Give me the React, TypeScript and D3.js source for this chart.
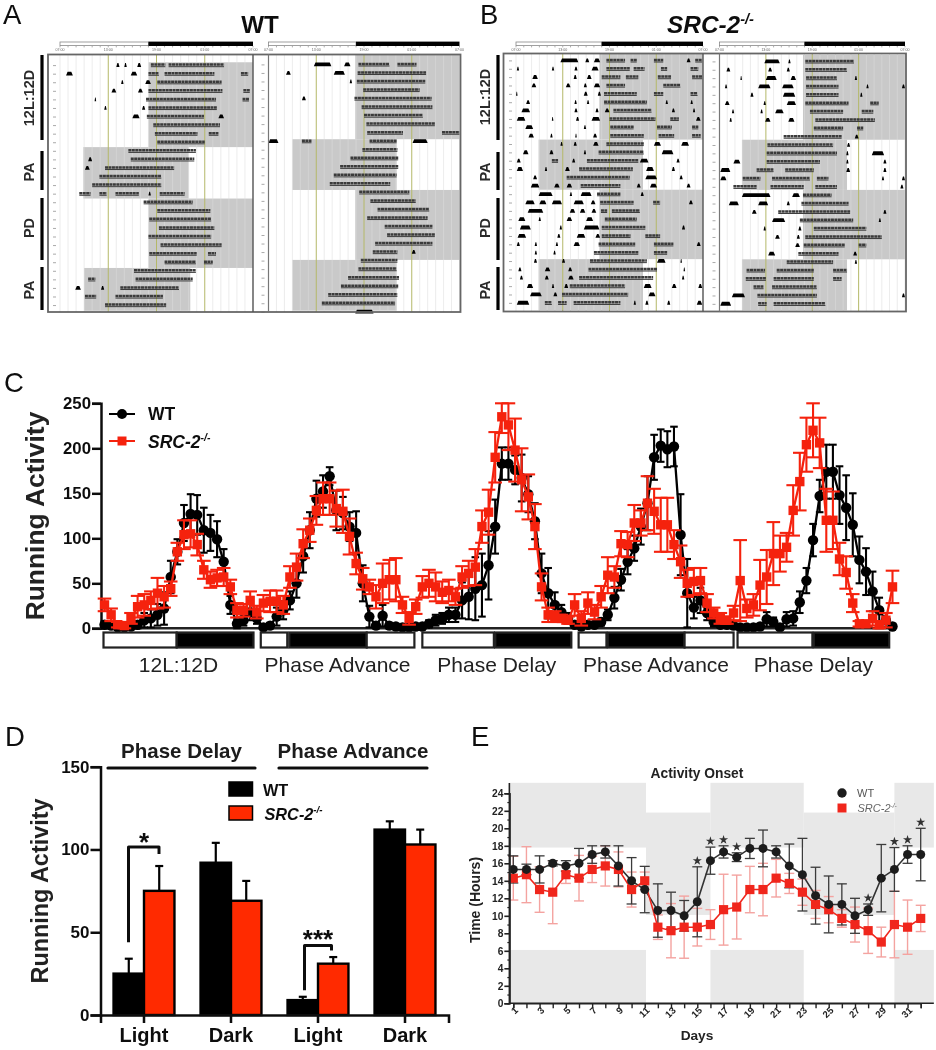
import React, { useEffect, useRef } from "react";
import { select, scaleLinear, scaleBand, axisLeft, axisBottom, line, symbol, symbolStar, range } from "d3";

type Seg = [number, number];
type Shade = [number, number, number, number];

const SANS = "'Liberation Sans', Arial, sans-serif";
const BLACK = "#050505";
const RED = "#f5220f";

// ---- panel A / B : activity bouts per day row, [start, end] in hours after 07:00
const wtLeft: Seg[][] = [
  [[7, 7.4], [8, 8.3], [9.6, 10.1], [11.3, 13.1], [13.5, 20.4]],
  [[0.75, 1.6], [8.8, 9.6], [11, 12.3], [13, 19.2], [22.5, 23.4]],
  [[7.6, 7.9], [10.6, 11.3], [12.1, 20.1]],
  [[6.4, 7], [9.7, 10.3], [11, 20.2], [22.8, 23.6]],
  [[4.3, 4.5], [10.7, 19.4], [22.7, 23.5]],
  [[5.5, 5.8], [10.2, 10.6], [11, 19.5]],
  [[9, 9.9], [10.8, 17.9], [19.7, 20.4]],
  [[11.6, 19.9]],
  [[11.8, 17.1], [18.5, 19.7]],
  [[12.1, 18]],
  [[8.5, 16.9]],
  [[3.5, 4], [8.8, 16.7]],
  [[3.1, 3.7], [5.6, 14.2]],
  [[4.9, 12.6]],
  [[4, 12.6]],
  [[2.4, 3.8], [4.9, 5.8], [6.9, 9.8], [11, 11.3], [12.4, 15.5]],
  [[10.4, 16.5]],
  [[12.1, 18.7]],
  [[11.1, 18.8]],
  [[12.3, 19.2]],
  [[11, 18.8]],
  [[12.5, 20.1]],
  [[11.1, 17], [18.4, 19.4]],
  [[13, 16.9], [17.9, 19]],
  [[9.2, 16.9]],
  [[3.5, 4.4], [9.4, 16.5]],
  [[1.9, 2.6], [5.1, 5.5], [7.5, 14.8]],
  [[3.1, 4.5], [6.9, 12.8]],
  [[5.6, 13.2]],
];
const wtRight: Seg[][] = [
  [[5.7, 7.9], [9.5, 10.3], [11.3, 15.2], [16.2, 18.6]],
  [[2.2, 2.8], [8.2, 9.6], [11.2, 19.8]],
  [[10.2, 10.5], [11.1, 19.7]],
  [[11.9, 19]],
  [[4.2, 4.7], [10.8, 20.5]],
  [[11.7, 20.6]],
  [[12, 19.4]],
  [[12.3, 20.9]],
  [[12.4, 16.9], [21.8, 24]],
  [[0, 1.25], [4.2, 5.4], [12.7, 16.1], [18.1, 20]],
  [[11.8, 16.2]],
  [[10.3, 16.3]],
  [[9, 16.3]],
  [[8.2, 16.1]],
  [[7.7, 15.3]],
  [[11.4, 17.7]],
  [[12.8, 18.5]],
  [[13.7, 20.2]],
  [[12.4, 20]],
  [[14.6, 20.6]],
  [[14.9, 20.9]],
  [[13.4, 20.6]],
  [[13.1, 16.2], [18, 18.5]],
  [[11.6, 16.2]],
  [[11.3, 16.1]],
  [[10, 16.4]],
  [[9.1, 16.3]],
  [[7.5, 16.2]],
  [[6.7, 15.9]],
  [[10.9, 13.2]],
];
const srcLeft: Seg[][] = [
  [[5.7, 8], [8.9, 9.4], [10, 10.8], [11.6, 14], [14.7, 15.5], [17.7, 18.9], [21.9, 22.4], [23, 23.9]],
  [[0.1, 0.4], [4.6, 4.9], [7.5, 7.9], [9.7, 10.6], [11.6, 14.6], [15.1, 16.5], [18.6, 19.4], [22.4, 23.4]],
  [[2.1, 2.8], [7.4, 7.8], [9.1, 9.7], [11, 13.4], [14.1, 15.7], [18.2, 19.9], [22.6, 23.9]],
  [[2, 2.6], [6.4, 7], [8.7, 9.1], [10, 10.8], [11.6, 14], [18.9, 21.1]],
  [[0, 0.2], [8.7, 9.2], [10.5, 10.9], [11.3, 15.5], [17.7, 18.9], [22.4, 23.3]],
  [[1.3, 1.8], [7.5, 7.8], [9.1, 9.4], [11.3, 16.8], [19.2, 19.5], [22.4, 22.7]],
  [[0.7, 1.8], [7.5, 7.9], [10.2, 10.6], [11.4, 12], [12.5, 17.4], [20, 20.4], [22.7, 23]],
  [[0.1, 1.2], [4.6, 4.8], [7.7, 8.1], [9.7, 10.8], [12, 17.9], [19.8, 20.9], [23.1, 23.7]],
  [[1.2, 2.2], [8.7, 9], [12.1, 15.1], [18.1, 20], [22.6, 23.4]],
  [[1.6, 2.3], [4.4, 4.7], [7.6, 7.8], [9.9, 10.4], [12.1, 16.4], [18.3, 20.3], [22.6, 23.7]],
  [[5.7, 6], [7.4, 7.8], [9.9, 10.6], [11.6, 16.4], [17.7, 18.6], [21.2, 22.2]],
  [[0.9, 1.6], [4.3, 4.8], [8.7, 9], [10.6, 16.4], [18.7, 20.2]],
  [[0.1, 0.6], [4.6, 5.4], [7.2, 7.6], [9.1, 15.7], [15.9, 17], [20.6, 21]],
  [[0.1, 0.9], [3.7, 4], [6.3, 6.9], [8.1, 15], [16.7, 17.7], [20, 20.4]],
  [[2.2, 2.7], [6.5, 14.6], [16.6, 18.1], [21, 21.4]],
  [[1.9, 3], [4.9, 5.6], [6.5, 7.2], [8.3, 13.4], [15.5, 16], [17.2, 18.1], [21.9, 22.4]],
  [[2.9, 4.7], [6.9, 7.2], [8.3, 9.7], [10.4, 13.4], [16, 16.4]],
  [[1.2, 2.4], [3, 3.9], [4.6, 5.9], [7.4, 8.7], [9.6, 10.2], [10.8, 15.1], [17.6, 18.5], [22.2, 22.7]],
  [[1.5, 3.5], [6.9, 7.6], [8.2, 8.9], [9.7, 10.3], [10.9, 11.7], [12.3, 15.9]],
  [[0.3, 1.2], [2.9, 3.2], [6.5, 7.2], [9, 9.9], [11.4, 15.5]],
  [[0.5, 1.9], [5.6, 5.9], [8.7, 10.7], [11, 16.6], [21.3, 21.7]],
  [[0.2, 1.3], [5.3, 5.7], [7.8, 8.9], [10.2, 10.8], [11, 14.7], [16.6, 18.5]],
  [[0.1, 0.5], [2.4, 2.7], [5.1, 5.4], [7.4, 8.2], [10.6, 15.3], [17.7, 20.2], [23.2, 23.7]],
  [[2.4, 2.7], [4.8, 5.1], [10, 15.7], [17.7, 19.4]],
  [[2.3, 2.7], [5.9, 6.3], [9.5, 16.8], [18.1, 19.2], [21.1, 21.3]],
  [[0.3, 0.7], [3.7, 4.4], [6.7, 7.2], [9.3, 18.1], [21.5, 21.7]],
  [[0.5, 0.9], [3.7, 4.2], [6.7, 7.4], [8.1, 17.6], [21.3, 21.6]],
  [[1.4, 2.2], [4.6, 4.9], [6.2, 6.7], [6.9, 14], [16.4, 17.4], [20, 20.6], [23.4, 23.9]],
  [[1.8, 3.3], [4.8, 5.3], [5.9, 14.4], [17, 17.9]],
  [[0.1, 1.7], [3.7, 4.6], [5.4, 6.5], [7.4, 13.4], [15.1, 15.4], [16.6, 17], [19.4, 19.8], [23.2, 23.9]],
];
const srcRight: Seg[][] = [
  [[5.8, 7.8], [8.9, 9.2], [11.1, 17.4]],
  [[0.9, 1.4], [6.3, 6.8], [8.7, 9.1], [11.1, 16.5]],
  [[2.7, 2.9], [6, 7.4], [9.2, 9.9], [11.2, 15.2], [17.5, 17.8]],
  [[0.7, 1], [5, 6.6], [8.1, 9.6], [11.2, 15.4], [19, 19.3], [23.6, 24]],
  [[4, 4.4], [8.2, 9.8], [11.2, 15.4], [18.2, 18.5]],
  [[0.7, 1.3], [5.7, 6], [8.7, 9.9], [11.1, 16.7], [19.5, 20.6]],
  [[1.6, 1.9], [5.3, 5.6], [7.2, 8.3], [11.7, 16], [18.4, 19.9]],
  [[1.3, 1.6], [5.9, 6.6], [8.9, 9.7], [12.4, 20.1]],
  [[12.2, 16], [17.8, 18.6]],
  [[8.3, 15.8], [17.5, 18]],
  [[6.2, 14.7], [16.5, 16.9]],
  [[6.1, 15.2], [16.4, 16.7], [19.7, 21.3]],
  [[1.8, 2.7], [6.1, 13], [16.4, 16.7], [21.2, 21.6]],
  [[0.1, 1.4], [4.8, 7], [8.5, 12.2], [16.4, 16.9], [21.2, 21.6]],
  [[0.1, 0.9], [3, 5.3], [6.8, 11.7], [12.6, 14.1], [21, 21.3], [23.6, 24]],
  [[1.8, 4.8], [6.6, 10.9], [12.4, 15.2], [23.4, 23.8]],
  [[2.9, 6.6], [9.4, 10.4], [10.8, 14.5]],
  [[1.2, 2.5], [5, 6.3], [8.7, 9.1], [10.6, 16.7]],
  [[4.2, 4.8], [7.6, 16.9], [21.2, 21.6]],
  [[6.8, 8.5], [10.4, 17.3], [20.6, 20.9]],
  [[5.7, 6], [10.2, 10.6], [12.2, 19]],
  [[7.2, 7.8], [10, 10.4], [11.1, 21]],
  [[9.8, 10.4], [10.9, 16.2], [18, 19]],
  [[6.3, 7.2], [10.2, 15.4], [17.3, 17.8]],
  [[8.7, 14.7], [17.5, 17.8]],
  [[3.5, 5.9], [7.4, 12.2], [14.7, 16.5]],
  [[3.4, 6], [7, 12.2], [14.7, 15.8]],
  [[4.4, 5.7], [6.8, 12.6]],
  [[1.6, 3.3], [4.9, 12.6], [23.6, 24]],
  [[0.1, 1.5], [5, 6.1], [7, 13.7]],
];
// [first row, last row, start hour, end hour] of the dark phase
const wtLeftShades: Shade[] = [[-0.4, 9.5, 11, 24], [9.5, 15.5, 2.9, 16], [15.5, 23.6, 11, 24], [23.6, 28.6, 3, 16.2]];
const wtRightShades: Shade[] = [[-1.17, 8.7, 10.9, 24], [8.7, 14.65, 3, 16.1], [14.65, 22.85, 10.9, 24], [22.85, 28.8, 3, 16.1]];
const srcLeftShades: Shade[] = [[-0.9, 9.4, 10.7, 24], [9.4, 15.4, 2.9, 16.3], [15.4, 23.7, 10.7, 24], [23.7, 29.8, 2.9, 16.3]];
const srcRightShades: Shade[] = [[-0.85, 9.3, 10.8, 24], [9.3, 15.3, 2.9, 16.5], [15.3, 23.6, 10.8, 24], [23.6, 29.7, 2.9, 16.5]];
const clockLabels = ["07:00", "13:00", "19:00", "01:00", "07:00"];
const scheduleLabels = ["12L:12D", "PA", "PD", "PA"];

// ---- panel C : hourly running activity
const cWt = [
  4, 3, 1, 1, 2, 4, 9, 11, 15, 22, 57, 85, 117, 127, 126, 109, 106, 99, 74, 26, 5, 9, 18, 11, 1, 3, 13, 20, 31, 50,
  80, 109, 144, 152, 169, 131, 128, 113, 106, 50, 13, 3, 14, 3, 2, 1, 1, 2, 2, 5, 9, 11, 15, 15, 31, 35,
  44, 48, 70, 113, 183, 183, 176, 167, 149, 119, 61, 39, 26, 18, 11, 4, 2, 4, 4, 7, 15, 34, 54, 74, 89, 113, 139, 190,
  203, 199, 202, 104, 39, 23, 31, 17, 7, 4, 4, 3, 1, 1, 1, 2, 10, 7, 1, 10, 11, 29, 53, 98, 147, 174, 174, 148, 134,
  115, 76, 63, 41, 20, 9, 2,
];
const cWtErr = [
  4, 3, 1, 1, 2, 4, 8, 10, 12, 18, 18, 14, 20, 22, 22, 25, 20, 20, 14, 10, 5, 6, 9, 6, 2, 3, 10, 10, 10, 16,
  18, 20, 20, 18, 10, 22, 18, 16, 24, 20, 12, 4, 12, 3, 2, 1, 1, 2, 2, 4, 6, 6, 8, 8, 20, 25,
  35, 35, 38, 30, 18, 18, 16, 26, 20, 20, 22, 28, 14, 8, 6, 3, 2, 3, 3, 4, 6, 12, 12, 14, 14, 20, 30, 25,
  18, 20, 22, 45, 38, 12, 14, 8, 5, 3, 3, 2, 1, 1, 1, 2, 8, 5, 1, 8, 8, 12, 14, 18, 18, 30, 30, 32, 36,
  35, 26, 26, 22, 14, 8, 3,
];
const cSrc = [
  26, 15, 4, 3, 11, 24, 26, 31, 39, 35, 44, 85, 104, 105, 93, 65, 54, 56, 57, 46, 20, 20, 31, 18, 28, 30, 30, 26, 57, 68,
  94, 109, 131, 144, 144, 133, 130, 102, 72, 55, 46, 35, 50, 54, 54, 26, 11, 24, 46, 50, 46, 40, 42, 35, 57, 61,
  68, 113, 129, 190, 235, 226, 198, 165, 146, 113, 46, 15, 13, 11, 9, 26, 11, 28, 18, 35, 59, 57, 94, 93, 117, 117, 139, 130,
  115, 115, 93, 74, 50, 52, 53, 28, 17, 11, 9, 17, 53, 22, 26, 48, 57, 83, 83, 90, 131, 163, 204, 220, 206,
  120, 120, 77, 62, 28, 5, 5, 11, 4, 9, 46,
];
const cSrcErr = [
  7, 7, 3, 3, 6, 12, 12, 10, 17, 12, 8, 10, 16, 15, 12, 10, 9, 9, 10, 8, 8, 7, 10, 7, 9, 12, 12, 10, 12, 15,
  16, 13, 16, 18, 18, 20, 24, 20, 12, 12, 8, 13, 22, 22, 24, 9, 7, 8, 12, 15, 16, 12, 12, 9, 12, 14,
  20, 18, 25, 28, 18, 28, 35, 35, 25, 25, 15, 8, 6, 4, 4, 12, 8, 12, 8, 12, 20, 12, 14, 14, 20, 14, 30, 25,
  30, 30, 16, 18, 15, 15, 14, 10, 6, 6, 4, 8, 45, 10, 12, 28, 30, 35, 20, 16, 28, 32, 30, 30, 28,
  35, 32, 18, 18, 10, 3, 3, 8, 4, 8, 18,
];
// light and dark stretches of the schedule bar, in hour positions
const cPhases = [
  { label: "12L:12D", parts: [["L", -0.15, 10.9], ["D", 10.9, 22.5]] },
  { label: "Phase Advance", parts: [["L", 23.6, 27.6], ["D", 27.9, 39.6], ["L", 39.6, 46.8]] },
  { label: "Phase Delay", parts: [["L", 48, 58.8], ["D", 59, 70.5]] },
  { label: "Phase Advance", parts: [["L", 71.6, 75.8], ["D", 76, 87.6], ["L", 87.6, 95]] },
  { label: "Phase Delay", parts: [["L", 95.6, 106.9], ["D", 107.1, 118.5]] },
];

// ---- panel D
const dGroups = ["Light", "Dark", "Light", "Dark"];
const dWt = [25, 92, 9, 112];
const dWtTop = [34, 104, 11, 117];
const dSrc = [75, 69, 31, 103];
const dSrcTop = [90, 81, 35, 112];

// ---- panel E
const eDays = range(1, 33);
const eWt = [15.3, 15.3, 15.3, 16, 15.7, 16, 17, 17.3, 15.7, 14, 13, 10.6, 10.6, 10, 11.6, 16.3, 17.3, 16.7, 17.7, 17.7, 17.3, 15.7, 14.7, 12.3, 11.3, 11.3, 10, 10.7, 14.3, 15.3, 17, 17];
const eWtErr = [1.55, 0.6, 1.55, 0.3, 0.6, 1.7, 1, 0.7, 2.3, 2.65, 2.65, 3.05, 2.1, 1.75, 4, 1.55, 0.7, 0.5, 1.15, 2.1, 0.7, 2.5, 4.15, 3.25, 3.25, 2.35, 2, 0.65, 3.85, 2.5, 1, 3];
const eSrc = [14.3, 14.7, 13, 12.7, 14.7, 14.3, 15.3, 15.7, 15.3, 13, 14, 8.7, 8.3, 8.7, 8.7, 9, 10.7, 11, 13, 13, 14.3, 13.7, 12.7, 11.3, 10.7, 9.7, 9, 8.3, 7, 9, 8.7, 9.7];
const eSrcErr = [2.5, 3.2, 2.6, 3.6, 1, 2.6, 1.5, 2.3, 2, 2, 1, 1.4, 3.1, 3.55, 2.15, 1.7, 4.05, 3.65, 2.65, 3, 2.15, 1.15, 1.5, 1.6, 1.5, 1, 2, 2.6, 1.7, 3.8, 3.1, 1.5];
const eStarDays = [15, 16, 17, 18, 28, 30, 31, 32];
// [first day, last day, low hour, high hour]
const eGrey: Shade[] = [
  [0.7, 11.1, 17.8, 25.2], [0.7, 11.1, 0, 6.1],
  [11.1, 16, 10.1, 21.8],
  [16, 23.1, 17.8, 25.2], [16, 23.1, 0, 6.1],
  [23.1, 30, 10.1, 21.8],
  [30, 33, 17.8, 25.2], [30, 33, 0, 6.1],
];

function Src({ x, y, size, fill = "#111", weight = "bold", anchor = "start" }: any) {
  return (
    <text x={x} y={y} fontSize={size} fontStyle="italic" fontWeight={weight} fill={fill} textAnchor={anchor} fontFamily={SANS}>
      SRC-2<tspan dy={-size * 0.38} fontSize={size * 0.6}>-/-</tspan>
    </text>
  );
}

function PanelLetter({ x, y, children }: any) {
  return <text x={x} y={y} fontSize={27.5} fill="#111" fontFamily={SANS}>{children}</text>;
}

function Actogram({ x0, x1, yStart, rowStep, rows, shades, top, bottom }: any) {
  const x = scaleLinear().domain([0, 24]).range([x0, x1]);
  const y = scaleLinear().domain([0, 1]).range([yStart, yStart + rowStep]);
  const inDark = (r: number, h: number) => shades.some((s: Shade) => r >= s[0] && r < s[1] && h >= s[2] && h <= s[3]);
  return (
    <g>
      {shades.map((s: Shade, i: number) => (
        <rect key={i} x={x(s[2])} y={y(s[0])} width={x(s[3]) - x(s[2])} height={y(s[1]) - y(s[0])} fill="#c9c9c9" />
      ))}
      {range(0, 25).map((h) => {
        const olive = h % 6 === 0 && h > 0 && h < 24;
        return (
          <line key={h} x1={x(h)} x2={x(h)} y1={top} y2={bottom}
            stroke={olive ? "#b4b868" : "#dcdcdc"} strokeOpacity={olive ? 1 : 0.7} strokeWidth={olive ? 1 : 0.8} />
        );
      })}
      {rows.map((_: Seg[], r: number) => (
        <rect key={r} x={x0 - 7} y={y(r) - 0.6} width={3} height={1} fill="#aaa" />
      ))}
      <g filter="url(#softer)">
        {rows.map((segs: Seg[], r: number) =>
          segs.map((seg, i) => {
            const a = x(seg[0]);
            const b = x(seg[1]);
            if (inDark(r, (seg[0] + seg[1]) / 2) && b - a > 6) {
              return (
                <g key={r + "-" + i}>
                  <line x1={a} x2={b} y1={y(r) + 1} y2={y(r) + 1} stroke="#3a3a3a" strokeWidth={1} />
                  <line x1={a} x2={b} y1={y(r) - 1.1} y2={y(r) - 1.1} stroke="#3a3a3a" strokeWidth={2.5} strokeDasharray="3 0.45" />
                </g>
              );
            }
            // short bouts sit up as little mounds
            const rise = Math.min(1.6, (b - a) / 3);
            return (
              <path key={r + "-" + i} d={`M${a},${y(r) + 1.2}L${a + rise},${y(r) - 2.6}L${b - rise},${y(r) - 2.6}L${b},${y(r) + 1.2}Z`} fill={BLACK} />
            );
          })
        )}
      </g>
      {/* light / dark strip above the plot */}
      <rect x={x(0)} y={42} width={x(11) - x(0)} height={3.6} fill="#fff" stroke="#888" strokeWidth={0.8} />
      <rect x={x(11)} y={41.6} width={x(24) - x(11)} height={4.4} fill={BLACK} />
      {range(0, 25).map((h) => (
        <line key={h} x1={x(h)} x2={x(h)} y1={46} y2={47.4} stroke="#777" strokeWidth={0.6} />
      ))}
      {clockLabels.map((t, i) => (
        <text key={i} x={x(i * 6)} y={50.6} fontSize={3.6} textAnchor="middle" fill="#666" fontFamily={SANS}>{t}</text>
      ))}
    </g>
  );
}

function ScheduleMarks({ barX, textX, centers, spans }: any) {
  return (
    <g>
      {spans.map((s: number[], i: number) => (
        <line key={i} x1={barX} x2={barX} y1={s[0]} y2={s[1]} stroke={BLACK} strokeWidth={3.2} />
      ))}
      {scheduleLabels.map((t, i) => (
        <text key={i} x={textX} y={centers[i]} transform={`rotate(-90 ${textX} ${centers[i]})`} fontSize={14.5}
          fontWeight="bold" fill="#2a2a2a" textAnchor="middle" dominantBaseline="middle" fontFamily={SANS}>{t}</text>
      ))}
    </g>
  );
}

function Axis({ axis, x = 0, y = 0, size, weight = "bold", colour = "#111", width = 2.5, rotate = false }: any) {
  const ref = useRef<SVGGElement>(null);
  useEffect(() => {
    const g = select(ref.current);
    g.call(axis);
    g.selectAll("line,path").attr("stroke", colour).attr("stroke-width", width);
    g.selectAll("text").attr("font-size", size).attr("font-weight", weight).attr("fill", colour).attr("font-family", SANS);
    if (rotate) {
      g.selectAll("text").attr("text-anchor", "end").attr("dx", "-2px").attr("dy", "2px").attr("transform", "rotate(-45)");
    }
  }, [axis, size, weight, colour, width, rotate]);
  return <g ref={ref} transform={`translate(${x},${y})`} />;
}

function ActivityTrace() {
  const x = scaleLinear().domain([0, 119]).range([104.5, 892.5]);
  const y = scaleLinear().domain([0, 250]).range([628.3, 403.3]).clamp(true);
  const path = line<number>().x((_, i) => x(i)).y((d) => y(d));
  const series = [
    { values: cWt, err: cWtErr, colour: BLACK, cap: 3.8 },
    { values: cSrc, err: cSrcErr, colour: RED, cap: 6.8 },
  ];
  return (
    <g>
      <Axis axis={axisLeft(y).tickValues([0, 50, 100, 150, 200, 250]).tickSize(9).tickPadding(1)} x={101} size={16.8} />
      <line x1={101} x2={893} y1={y(0)} y2={y(0)} stroke="#222" strokeWidth={2.6} />
      {series.map((s, k) => (
        <g key={k}>
          {s.values.map((v, i) => (
            <g key={i} stroke={s.colour} strokeWidth={2.1}>
              <line x1={x(i)} x2={x(i)} y1={y(v + s.err[i])} y2={y(v - s.err[i])} />
              <line x1={x(i) - s.cap} x2={x(i) + s.cap} y1={y(v + s.err[i])} y2={y(v + s.err[i])} />
              <line x1={x(i) - s.cap} x2={x(i) + s.cap} y1={y(v - s.err[i])} y2={y(v - s.err[i])} />
            </g>
          ))}
          <path d={path(s.values) as string} fill="none" stroke={s.colour} strokeWidth={2.3} />
          {s.values.map((v, i) =>
            k === 0 ? (
              <circle key={i} cx={x(i)} cy={y(v)} r={5.2} fill={s.colour} />
            ) : (
              <rect key={i} x={x(i) - 4.7} y={y(v) - 4.7} width={9.4} height={9.4} fill={s.colour} />
            )
          )}
        </g>
      ))}
      {cPhases.map((p, i) => {
        const a = x(p.parts[0][1] as number);
        const b = x(p.parts[p.parts.length - 1][2] as number);
        return (
          <g key={i}>
            {p.parts.map((part, j) => (
              <rect key={j} x={x(part[1] as number)} y={632.5} width={x(part[2] as number) - x(part[1] as number)} height={15}
                fill={part[0] === "L" ? "#fff" : BLACK} stroke="#222" strokeWidth={2.2} />
            ))}
            <text x={(a + b) / 2} y={672} fontSize={21} textAnchor="middle" fill="#222" fontFamily={SANS}>{p.label}</text>
          </g>
        );
      })}
      <text transform="translate(37,516) rotate(-90)" dominantBaseline="middle" fontSize={26.4} fontWeight="bold" textAnchor="middle" fill="#222" fontFamily={SANS}>Running Activity</text>
      <line x1={109} x2={135} y1={414} y2={414} stroke={BLACK} strokeWidth={2} />
      <circle cx={122} cy={414} r={5} fill={BLACK} />
      <text x={148} y={420} fontSize={17.5} fontWeight="bold" fill="#111" fontFamily={SANS}>WT</text>
      <line x1={109} x2={135} y1={441} y2={441} stroke={RED} strokeWidth={2} />
      <rect x={117.5} y={436.5} width={9} height={9} fill={RED} />
      <Src x={148} y={448} size={17.5} />
    </g>
  );
}

function BarPanel() {
  const red = "#ff2a00";
  const y = scaleLinear().domain([0, 150]).range([1015, 766.7]);
  const x = scaleBand<number>().domain(dGroups.map((_, i) => i)).range([100.5, 448.5]).paddingInner(0.3).paddingOuter(0.15);
  const inner = scaleBand<string>().domain(["WT", "SRC"]).range([0, x.bandwidth()]);
  const mid = (i: number) => (x(i) as number) + x.bandwidth() / 2;
  const bars = [
    { key: "WT", values: dWt, tops: dWtTop, fill: BLACK },
    { key: "SRC", values: dSrc, tops: dSrcTop, fill: red },
  ];
  const bottomAxis = axisBottom(x).tickSize(8).tickPadding(5).tickFormat((i) => dGroups[i as number]);
  const bracket = (a: number, b: number, top: number, low: number, drop: number) =>
    `M${a},${y(low)}V${y(top)}H${b}V${y(top) + drop}`;
  return (
    <g>
      {bars.map((b) =>
        b.values.map((v, i) => {
          const left = (x(i) as number) + (inner(b.key) as number);
          const c = left + inner.bandwidth() / 2;
          return (
            <g key={b.key + i}>
              <line x1={c} x2={c} y1={y(v)} y2={y(b.tops[i])} stroke={BLACK} strokeWidth={2.2} />
              <line x1={c - 4} x2={c + 4} y1={y(b.tops[i])} y2={y(b.tops[i])} stroke={BLACK} strokeWidth={2.2} />
              <rect x={left} y={y(v)} width={inner.bandwidth()} height={y(0) - y(v)} fill={b.fill} stroke={BLACK} strokeWidth={2.4} />
            </g>
          );
        })
      )}
      <Axis axis={axisLeft(y).tickValues([0, 50, 100, 150]).tickSize(10).tickPadding(1)} x={100.5} size={17} />
      <g>
        <Axis axis={bottomAxis} y={1015} size={20} />
      </g>
      <path d={bracket(128.5, 159, 101.5, 44, 7)} fill="none" stroke="#111" strokeWidth={3} strokeLinejoin="round" />
      <path d={bracket(304.5, 331.5, 42, 15, 5)} fill="none" stroke="#111" strokeWidth={3} strokeLinejoin="round" />
      <text x={mid(0)} y={851} fontSize={26} fontWeight="bold" textAnchor="middle" fill="#111" fontFamily={SANS}>*</text>
      <text x={mid(2)} y={948} fontSize={26} fontWeight="bold" textAnchor="middle" fill="#111" fontFamily={SANS}>***</text>
      <line x1={108} x2={255} y1={768} y2={768} stroke="#111" strokeWidth={3.2} strokeLinecap="round" />
      <line x1={279} x2={427} y1={768} y2={768} stroke="#111" strokeWidth={3.2} strokeLinecap="round" />
      <text x={181.5} y={758} fontSize={20.5} fontWeight="bold" textAnchor="middle" fill="#1a1a1a" fontFamily={SANS}>Phase Delay</text>
      <text x={353} y={758} fontSize={20.5} fontWeight="bold" textAnchor="middle" fill="#1a1a1a" fontFamily={SANS}>Phase Advance</text>
      <rect x={229} y={782} width={23.5} height={14} fill={BLACK} stroke={BLACK} strokeWidth={1.5} />
      <rect x={229} y={806} width={23.5} height={14} fill={red} stroke={BLACK} strokeWidth={1.5} />
      <text x={263} y={795.5} fontSize={16.3} fontWeight="bold" fill="#111" fontFamily={SANS}>WT</text>
      <Src x={264.5} y={819.5} size={16.3} />
      <text transform="translate(42,891) rotate(-90)" dominantBaseline="middle" fontSize={23.4} fontWeight="bold" textAnchor="middle" fill="#222" fontFamily={SANS}>Running Activity</text>
    </g>
  );
}

function OnsetPanel() {
  const x = scaleLinear().domain([1, 32]).range([513.3, 920.7]);
  const y = scaleLinear().domain([0, 24]).range([1003.3, 793.3]);
  const red = "#f0281e";
  const path = (vals: number[]) => line<number>().x((_, i) => x(eDays[i])).y((d) => y(d))(vals) as string;
  const star = symbol().type(symbolStar).size(26)() as string;
  const leftEdge = x(0.7);
  const rightEdge = x(33);
  return (
    <g>
      {eGrey.map((s, i) => (
        <rect key={i} x={x(s[0])} y={y(s[3])} width={x(s[1]) - x(s[0])} height={y(s[2]) - y(s[3])} fill="#e8e8e8" />
      ))}
      {eSrc.map((v, i) => (
        <g key={i} stroke="#f4a3a0" strokeWidth={1.4}>
          <line x1={x(eDays[i])} x2={x(eDays[i])} y1={y(v + eSrcErr[i])} y2={y(v - eSrcErr[i])} />
          <line x1={x(eDays[i]) - 5} x2={x(eDays[i]) + 5} y1={y(v + eSrcErr[i])} y2={y(v + eSrcErr[i])} />
          <line x1={x(eDays[i]) - 5} x2={x(eDays[i]) + 5} y1={y(v - eSrcErr[i])} y2={y(v - eSrcErr[i])} />
        </g>
      ))}
      {eWt.map((v, i) => (
        <g key={i} stroke="#3a3a3a" strokeWidth={1.3}>
          <line x1={x(eDays[i])} x2={x(eDays[i])} y1={y(v + eWtErr[i])} y2={y(v - eWtErr[i])} />
          <line x1={x(eDays[i]) - 5} x2={x(eDays[i]) + 5} y1={y(v + eWtErr[i])} y2={y(v + eWtErr[i])} />
          <line x1={x(eDays[i]) - 5} x2={x(eDays[i]) + 5} y1={y(v - eWtErr[i])} y2={y(v - eWtErr[i])} />
        </g>
      ))}
      <path d={path(eWt)} fill="none" stroke="#333" strokeWidth={1.6} />
      <path d={path(eSrc)} fill="none" stroke={red} strokeWidth={1.6} />
      {eSrc.map((v, i) => (
        <rect key={i} x={x(eDays[i]) - 4.6} y={y(v) - 4.6} width={9.2} height={9.2} fill={red} />
      ))}
      {eWt.map((v, i) => (
        <circle key={i} cx={x(eDays[i])} cy={y(v)} r={4.5} fill="#1c1c1c" />
      ))}
      {eStarDays.map((d) => (
        <path key={d} d={star} fill="#333" transform={`translate(${x(d)},${y(eWt[d - 1] + eWtErr[d - 1]) - 6})`} />
      ))}
      <line x1={leftEdge} x2={leftEdge} y1={783} y2={1003.3} stroke="#222" strokeWidth={1.6} />
      <Axis axis={axisLeft(y).tickValues(range(1, 25, 2)).tickSize(2).tickFormat(() => "")} x={leftEdge} colour="#222" width={1.2} size={0} />
      <Axis axis={axisLeft(y).tickValues(range(0, 25, 2)).tickSize(5).tickPadding(1)} x={leftEdge} colour="#222" width={1.6} size={10.2} />
      <line x1={leftEdge} x2={rightEdge} y1={y(0)} y2={y(0)} stroke="#222" strokeWidth={1.6} />
      <Axis axis={axisBottom(x).tickValues(eDays).tickSize(5).tickPadding(2).tickFormat((d) => ((d as number) % 2 ? String(d) : ""))}
        y={1003.3} colour="#222" width={1.4} size={9.6} rotate />
      <text x={697} y={778} fontSize={13.8} fontWeight="bold" textAnchor="middle" fill="#222" fontFamily={SANS}>Activity Onset</text>
      <text x={697} y={1040} fontSize={13.7} fontWeight="bold" textAnchor="middle" fill="#222" fontFamily={SANS}>Days</text>
      <text transform="translate(476,900) rotate(-90)" dominantBaseline="middle" fontSize={14} fontWeight="bold" textAnchor="middle" fill="#222" fontFamily={SANS}>Time (Hours)</text>
      <circle cx={842} cy={793} r={4.7} fill="#1c1c1c" />
      <text x={857} y={797} fontSize={11} fill="#555" fontFamily={SANS}>WT</text>
      <rect x={837.5} y={803.5} width={9} height={9} fill={red} />
      <Src x={857.5} y={812} size={11} fill="#666" weight="normal" />
    </g>
  );
}

export default function App() {
  return (
    <svg width={936} height={1050} style={{ position: "absolute", left: 0, top: 0, display: "block", background: "#fff" }}>
      <defs>
        <filter id="softer" x="0" y="0" width="936" height="1050" filterUnits="userSpaceOnUse">
          <feGaussianBlur stdDeviation={0.55} />
        </filter>
        <filter id="soft" x="0" y="0" width="936" height="1050" filterUnits="userSpaceOnUse">
          <feGaussianBlur stdDeviation={0.32} />
        </filter>
      </defs>
      <g filter="url(#soft)">
        <PanelLetter x={3} y={24}>A</PanelLetter>
        <PanelLetter x={480} y={24}>B</PanelLetter>
        <PanelLetter x={4} y={392}>C</PanelLetter>
        <PanelLetter x={5} y={746}>D</PanelLetter>
        <PanelLetter x={471} y={746}>E</PanelLetter>

        <text x={260} y={33} fontSize={24.2} fontWeight="bold" textAnchor="middle" fill="#111" fontFamily={SANS}>WT</text>
        <Src x={667} y={33} size={24.4} />

        <Actogram x0={60} x1={253} yStart={65.7} rowStep={8.57} rows={wtLeft} shades={wtLeftShades} top={54.5} bottom={312} />
        <Actogram x0={268.5} x1={459.5} yStart={65} rowStep={8.53} rows={wtRight} shades={wtRightShades} top={54.5} bottom={312} />
        <rect x={48} y={54.5} width={412.5} height={257.5} fill="none" stroke="#666" strokeWidth={1.8} />
        <line x1={253} x2={253} y1={54.5} y2={312} stroke="#555" strokeWidth={1.4} />
        <line x1={268.5} x2={268.5} y1={54.5} y2={312} stroke="#777" strokeWidth={1.2} />
        <ScheduleMarks barX={42} textX={30} centers={[98, 172, 228, 290]} spans={[[55, 140], [151, 190], [198, 260], [267, 310]]} />

        <Actogram x0={516} x1={703} yStart={61} rowStep={8.36} rows={srcLeft} shades={srcLeftShades} top={53.5} bottom={311.5} />
        <Actogram x0={719.5} x1={905} yStart={62} rowStep={8.36} rows={srcRight} shades={srcRightShades} top={53.5} bottom={311.5} />
        <rect x={503.5} y={53.5} width={402.5} height={258} fill="none" stroke="#666" strokeWidth={1.8} />
        <line x1={703} x2={703} y1={53.5} y2={311.5} stroke="#555" strokeWidth={1.4} />
        <line x1={719.5} x2={719.5} y1={53.5} y2={311.5} stroke="#777" strokeWidth={1.2} />
        <ScheduleMarks barX={498} textX={486} centers={[97, 172, 228, 290]} spans={[[55, 140], [152, 190], [198, 260], [267, 310]]} />

        <ActivityTrace />
        <BarPanel />
        <OnsetPanel />
      </g>
    </svg>
  );
}
